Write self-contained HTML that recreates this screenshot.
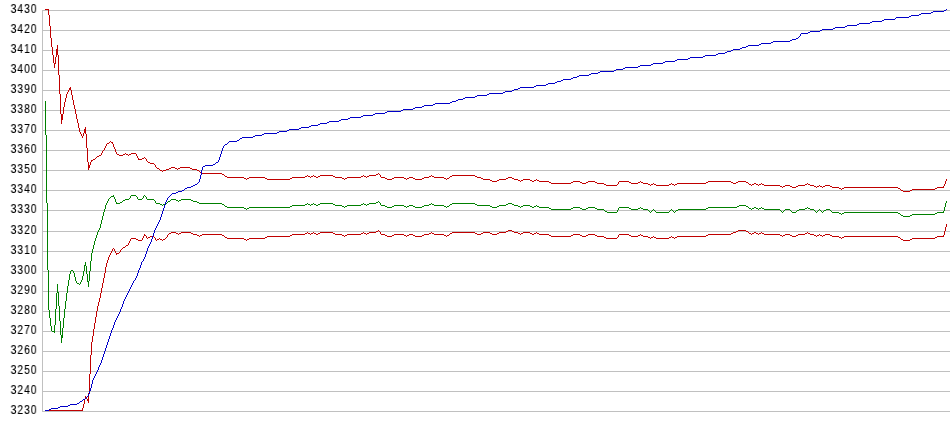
<!DOCTYPE html>
<html><head><meta charset="utf-8"><style>
html,body{margin:0;padding:0;background:#fff;}
body{width:950px;height:435px;position:relative;overflow:hidden;}
.l{position:absolute;right:912.7px;font-family:"Liberation Sans",sans-serif;font-size:12px;line-height:14px;color:#000;text-align:right;will-change:transform;letter-spacing:0.95px;transform:scaleX(0.88);transform-origin:100% 50%;-webkit-text-stroke:0.1px #000;}
svg{position:absolute;left:0;top:0;}
</style></head><body>
<svg width="950" height="435" viewBox="0 0 950 435" shape-rendering="crispEdges">
<path fill="#c0c0c0" d="M42 10h908v1h-908zM42 30h908v1h-908zM42 50h908v1h-908zM42 70h908v1h-908zM42 90h908v1h-908zM42 110h908v1h-908zM42 130h908v1h-908zM42 150h908v1h-908zM42 170h908v1h-908zM42 190h908v1h-908zM42 210h908v1h-908zM42 231h908v1h-908zM42 251h908v1h-908zM42 271h908v1h-908zM42 291h908v1h-908zM42 311h908v1h-908zM42 331h908v1h-908zM42 351h908v1h-908zM42 371h908v1h-908zM42 391h908v1h-908zM42 411h908v1h-908zM42 10h1v402h-1z"/>
<path fill="#c00000" d="M946 224h1v1h-1zM946 225h1v1h-1zM946 226h1v1h-1zM945 227h1v1h-1zM945 228h1v1h-1zM945 229h1v1h-1zM378 230h1v1h-1zM508 230h4v1h-4zM738 230h8v1h-8zM945 230h1v1h-1zM376 231h2v1h-2zM379 231h1v1h-1zM506 231h2v1h-2zM512 231h2v1h-2zM736 231h2v1h-2zM746 231h2v1h-2zM944 231h1v1h-1zM171 232h5v1h-5zM181 232h10v1h-10zM307 232h1v1h-1zM313 232h1v1h-1zM320 232h13v1h-13zM363 232h1v1h-1zM369 232h7v1h-7zM380 232h1v1h-1zM431 232h1v1h-1zM452 232h23v1h-23zM483 232h7v1h-7zM499 232h7v1h-7zM514 232h4v1h-4zM523 232h7v1h-7zM536 232h1v1h-1zM733 232h3v1h-3zM748 232h1v1h-1zM754 232h2v1h-2zM761 232h1v1h-1zM807 232h1v1h-1zM944 232h1v1h-1zM169 233h2v1h-2zM176 233h2v1h-2zM179 233h2v1h-2zM191 233h2v1h-2zM305 233h2v1h-2zM308 233h2v1h-2zM311 233h2v1h-2zM314 233h2v1h-2zM318 233h2v1h-2zM333 233h2v1h-2zM361 233h2v1h-2zM364 233h2v1h-2zM367 233h2v1h-2zM380 233h1v1h-1zM429 233h2v1h-2zM432 233h2v1h-2zM450 233h2v1h-2zM475 233h2v1h-2zM481 233h2v1h-2zM490 233h2v1h-2zM497 233h2v1h-2zM518 233h2v1h-2zM521 233h2v1h-2zM530 233h2v1h-2zM534 233h2v1h-2zM537 233h2v1h-2zM731 233h2v1h-2zM749 233h2v1h-2zM752 233h2v1h-2zM756 233h2v1h-2zM759 233h2v1h-2zM762 233h2v1h-2zM805 233h2v1h-2zM808 233h2v1h-2zM944 233h1v1h-1zM144 234h1v1h-1zM168 234h1v1h-1zM178 234h1v1h-1zM193 234h4v1h-4zM202 234h20v1h-20zM292 234h13v1h-13zM310 234h1v1h-1zM316 234h2v1h-2zM335 234h7v1h-7zM347 234h14v1h-14zM366 234h1v1h-1zM381 234h4v1h-4zM394 234h10v1h-10zM409 234h4v1h-4zM424 234h5v1h-5zM434 234h10v1h-10zM449 234h1v1h-1zM477 234h4v1h-4zM492 234h5v1h-5zM520 234h1v1h-1zM532 234h2v1h-2zM539 234h10v1h-10zM573 234h7v1h-7zM588 234h7v1h-7zM619 234h10v1h-10zM640 234h1v1h-1zM708 234h23v1h-23zM751 234h1v1h-1zM758 234h1v1h-1zM764 234h16v1h-16zM785 234h5v1h-5zM798 234h7v1h-7zM810 234h4v1h-4zM819 234h1v1h-1zM825 234h5v1h-5zM944 234h1v1h-1zM144 235h2v1h-2zM167 235h1v1h-1zM197 235h2v1h-2zM200 235h2v1h-2zM222 235h2v1h-2zM290 235h2v1h-2zM342 235h2v1h-2zM345 235h2v1h-2zM385 235h2v1h-2zM392 235h2v1h-2zM404 235h2v1h-2zM407 235h2v1h-2zM413 235h2v1h-2zM422 235h2v1h-2zM444 235h2v1h-2zM447 235h2v1h-2zM549 235h2v1h-2zM571 235h2v1h-2zM580 235h2v1h-2zM586 235h2v1h-2zM595 235h2v1h-2zM618 235h1v1h-1zM629 235h2v1h-2zM638 235h2v1h-2zM641 235h2v1h-2zM706 235h2v1h-2zM780 235h2v1h-2zM783 235h2v1h-2zM790 235h2v1h-2zM796 235h2v1h-2zM814 235h2v1h-2zM817 235h2v1h-2zM820 235h2v1h-2zM823 235h2v1h-2zM830 235h2v1h-2zM943 235h1v1h-1zM143 236h1v1h-1zM146 236h1v1h-1zM150 236h4v1h-4zM167 236h1v1h-1zM199 236h1v1h-1zM224 236h1v1h-1zM267 236h23v1h-23zM344 236h1v1h-1zM387 236h5v1h-5zM406 236h1v1h-1zM415 236h7v1h-7zM446 236h1v1h-1zM551 236h20v1h-20zM582 236h4v1h-4zM597 236h7v1h-7zM618 236h1v1h-1zM631 236h7v1h-7zM643 236h5v1h-5zM653 236h1v1h-1zM671 236h1v1h-1zM677 236h29v1h-29zM782 236h1v1h-1zM792 236h4v1h-4zM816 236h1v1h-1zM822 236h1v1h-1zM832 236h7v1h-7zM844 236h54v1h-54zM937 236h7v1h-7zM143 237h1v1h-1zM146 237h1v1h-1zM148 237h2v1h-2zM154 237h1v1h-1zM166 237h1v1h-1zM225 237h2v1h-2zM265 237h2v1h-2zM604 237h2v1h-2zM617 237h1v1h-1zM648 237h2v1h-2zM651 237h2v1h-2zM654 237h2v1h-2zM669 237h2v1h-2zM672 237h2v1h-2zM675 237h2v1h-2zM839 237h2v1h-2zM842 237h2v1h-2zM898 237h2v1h-2zM935 237h2v1h-2zM131 238h5v1h-5zM142 238h1v1h-1zM147 238h1v1h-1zM155 238h1v1h-1zM159 238h1v1h-1zM165 238h1v1h-1zM227 238h17v1h-17zM249 238h16v1h-16zM606 238h11v1h-11zM650 238h1v1h-1zM656 238h13v1h-13zM674 238h1v1h-1zM841 238h1v1h-1zM900 238h1v1h-1zM912 238h23v1h-23zM130 239h1v1h-1zM136 239h2v1h-2zM142 239h1v1h-1zM155 239h1v1h-1zM157 239h2v1h-2zM160 239h2v1h-2zM163 239h2v1h-2zM244 239h2v1h-2zM247 239h2v1h-2zM901 239h2v1h-2zM910 239h2v1h-2zM130 240h1v1h-1zM138 240h4v1h-4zM156 240h1v1h-1zM162 240h1v1h-1zM246 240h1v1h-1zM903 240h7v1h-7zM129 241h1v1h-1zM129 242h1v1h-1zM128 243h1v1h-1zM128 244h1v1h-1zM126 245h2v1h-2zM125 246h1v1h-1zM123 247h2v1h-2zM113 248h1v1h-1zM122 248h1v1h-1zM112 249h1v1h-1zM114 249h1v1h-1zM121 249h1v1h-1zM112 250h1v1h-1zM114 250h1v1h-1zM120 250h1v1h-1zM111 251h1v1h-1zM115 251h1v1h-1zM120 251h1v1h-1zM111 252h1v1h-1zM115 252h1v1h-1zM119 252h1v1h-1zM110 253h1v1h-1zM116 253h3v1h-3zM110 254h1v1h-1zM116 254h1v1h-1zM109 255h1v1h-1zM109 256h1v1h-1zM108 257h1v1h-1zM108 258h1v1h-1zM108 259h1v1h-1zM107 260h1v1h-1zM107 261h1v1h-1zM107 262h1v1h-1zM106 263h1v1h-1zM106 264h1v1h-1zM106 265h1v1h-1zM106 266h1v1h-1zM105 267h1v1h-1zM105 268h1v1h-1zM105 269h1v1h-1zM105 270h1v1h-1zM105 271h1v1h-1zM105 272h1v1h-1zM104 273h1v1h-1zM104 274h1v1h-1zM104 275h1v1h-1zM104 276h1v1h-1zM104 277h1v1h-1zM103 278h1v1h-1zM103 279h1v1h-1zM103 280h1v1h-1zM103 281h1v1h-1zM103 282h1v1h-1zM102 283h1v1h-1zM102 284h1v1h-1zM102 285h1v1h-1zM102 286h1v1h-1zM102 287h1v1h-1zM101 288h1v1h-1zM101 289h1v1h-1zM101 290h1v1h-1zM101 291h1v1h-1zM101 292h1v1h-1zM100 293h1v1h-1zM100 294h1v1h-1zM100 295h1v1h-1zM100 296h1v1h-1zM100 297h1v1h-1zM99 298h1v1h-1zM99 299h1v1h-1zM99 300h1v1h-1zM99 301h1v1h-1zM98 302h1v1h-1zM98 303h1v1h-1zM98 304h1v1h-1zM98 305h1v1h-1zM97 306h1v1h-1zM97 307h1v1h-1zM97 308h1v1h-1zM97 309h1v1h-1zM97 310h1v1h-1zM96 311h1v1h-1zM96 312h1v1h-1zM96 313h1v1h-1zM96 314h1v1h-1zM96 315h1v1h-1zM96 316h1v1h-1zM95 317h1v1h-1zM95 318h1v1h-1zM95 319h1v1h-1zM95 320h1v1h-1zM95 321h1v1h-1zM95 322h1v1h-1zM94 323h1v1h-1zM94 324h1v1h-1zM94 325h1v1h-1zM94 326h1v1h-1zM94 327h1v1h-1zM94 328h1v1h-1zM93 329h1v1h-1zM93 330h1v1h-1zM93 331h1v1h-1zM93 332h1v1h-1zM93 333h1v1h-1zM93 334h1v1h-1zM93 335h1v1h-1zM92 336h1v1h-1zM92 337h1v1h-1zM92 338h1v1h-1zM92 339h1v1h-1zM92 340h1v1h-1zM92 341h1v1h-1zM91 342h1v1h-1zM91 343h1v1h-1zM91 344h1v1h-1zM91 345h1v1h-1zM91 346h1v1h-1zM91 347h1v1h-1zM91 348h1v1h-1zM91 349h1v1h-1zM91 350h1v1h-1zM91 351h1v1h-1zM91 352h1v1h-1zM91 353h1v1h-1zM91 354h1v1h-1zM90 355h1v1h-1zM90 356h1v1h-1zM90 357h1v1h-1zM90 358h1v1h-1zM90 359h1v1h-1zM90 360h1v1h-1zM90 361h1v1h-1zM90 362h1v1h-1zM90 363h1v1h-1zM90 364h1v1h-1zM90 365h1v1h-1zM90 366h1v1h-1zM90 367h1v1h-1zM90 368h1v1h-1zM90 369h1v1h-1zM90 370h1v1h-1zM90 371h1v1h-1zM90 372h1v1h-1zM90 373h1v1h-1zM89 374h1v1h-1zM89 375h1v1h-1zM89 376h1v1h-1zM89 377h1v1h-1zM89 378h1v1h-1zM89 379h1v1h-1zM89 380h1v1h-1zM89 381h1v1h-1zM89 382h1v1h-1zM89 383h1v1h-1zM89 384h1v1h-1zM89 385h1v1h-1zM89 386h1v1h-1zM89 387h1v1h-1zM89 388h1v1h-1zM89 389h1v1h-1zM89 390h1v1h-1zM89 391h1v1h-1zM89 392h1v1h-1zM88 393h1v1h-1zM88 394h1v1h-1zM88 395h1v1h-1zM85 396h1v1h-1zM88 396h1v1h-1zM85 397h2v1h-2zM88 397h1v1h-1zM85 398h2v1h-2zM88 398h1v1h-1zM84 399h1v1h-1zM87 399h2v1h-2zM84 400h1v1h-1zM87 400h2v1h-2zM84 401h1v1h-1zM88 401h1v1h-1zM84 402h1v1h-1zM88 402h1v1h-1zM84 403h1v1h-1zM83 404h1v1h-1zM83 405h1v1h-1zM83 406h1v1h-1zM83 407h1v1h-1zM82 408h1v1h-1zM82 409h1v1h-1zM45 410h38v1h-38z"/>
<path fill="#008000" d="M45 101h1v1h-1zM45 102h1v1h-1zM45 103h1v1h-1zM45 104h1v1h-1zM45 105h1v1h-1zM45 106h1v1h-1zM45 107h1v1h-1zM45 108h1v1h-1zM45 109h1v1h-1zM45 110h1v1h-1zM45 111h1v1h-1zM45 112h1v1h-1zM45 113h1v1h-1zM45 114h1v1h-1zM45 115h1v1h-1zM45 116h1v1h-1zM45 117h1v1h-1zM45 118h1v1h-1zM45 119h1v1h-1zM45 120h1v1h-1zM45 121h1v1h-1zM45 122h1v1h-1zM45 123h1v1h-1zM45 124h1v1h-1zM45 125h1v1h-1zM45 126h1v1h-1zM45 127h1v1h-1zM45 128h1v1h-1zM45 129h1v1h-1zM45 130h1v1h-1zM45 131h1v1h-1zM45 132h1v1h-1zM45 133h1v1h-1zM45 134h1v1h-1zM46 135h1v1h-1zM46 136h1v1h-1zM46 137h1v1h-1zM46 138h1v1h-1zM46 139h1v1h-1zM46 140h1v1h-1zM46 141h1v1h-1zM46 142h1v1h-1zM46 143h1v1h-1zM46 144h1v1h-1zM46 145h1v1h-1zM46 146h1v1h-1zM46 147h1v1h-1zM46 148h1v1h-1zM46 149h1v1h-1zM46 150h1v1h-1zM46 151h1v1h-1zM46 152h1v1h-1zM46 153h1v1h-1zM46 154h1v1h-1zM46 155h1v1h-1zM46 156h1v1h-1zM46 157h1v1h-1zM46 158h1v1h-1zM46 159h1v1h-1zM46 160h1v1h-1zM46 161h1v1h-1zM46 162h1v1h-1zM46 163h1v1h-1zM46 164h1v1h-1zM46 165h1v1h-1zM46 166h1v1h-1zM46 167h1v1h-1zM46 168h1v1h-1zM46 169h1v1h-1zM46 170h1v1h-1zM46 171h1v1h-1zM46 172h1v1h-1zM46 173h1v1h-1zM46 174h1v1h-1zM46 175h1v1h-1zM46 176h1v1h-1zM46 177h1v1h-1zM46 178h1v1h-1zM46 179h1v1h-1zM46 180h1v1h-1zM46 181h1v1h-1zM46 182h1v1h-1zM46 183h1v1h-1zM46 184h1v1h-1zM46 185h1v1h-1zM46 186h1v1h-1zM46 187h1v1h-1zM46 188h1v1h-1zM46 189h1v1h-1zM46 190h1v1h-1zM46 191h1v1h-1zM46 192h1v1h-1zM46 193h1v1h-1zM46 194h1v1h-1zM46 195h1v1h-1zM113 195h1v1h-1zM131 195h5v1h-5zM144 195h1v1h-1zM46 196h1v1h-1zM111 196h3v1h-3zM130 196h1v1h-1zM136 196h1v1h-1zM143 196h1v1h-1zM145 196h1v1h-1zM46 197h1v1h-1zM110 197h1v1h-1zM114 197h1v1h-1zM130 197h1v1h-1zM137 197h1v1h-1zM143 197h1v1h-1zM146 197h1v1h-1zM46 198h1v1h-1zM109 198h1v1h-1zM114 198h1v1h-1zM129 198h1v1h-1zM137 198h1v1h-1zM142 198h1v1h-1zM146 198h1v1h-1zM46 199h1v1h-1zM108 199h1v1h-1zM115 199h1v1h-1zM125 199h4v1h-4zM138 199h4v1h-4zM147 199h7v1h-7zM171 199h5v1h-5zM181 199h10v1h-10zM46 200h1v1h-1zM108 200h1v1h-1zM115 200h1v1h-1zM123 200h2v1h-2zM154 200h1v1h-1zM170 200h1v1h-1zM176 200h2v1h-2zM179 200h2v1h-2zM191 200h2v1h-2zM46 201h1v1h-1zM107 201h1v1h-1zM115 201h1v1h-1zM122 201h1v1h-1zM155 201h1v1h-1zM168 201h2v1h-2zM178 201h1v1h-1zM193 201h4v1h-4zM378 201h1v1h-1zM946 201h1v1h-1zM46 202h1v1h-1zM107 202h1v1h-1zM116 202h1v1h-1zM120 202h2v1h-2zM155 202h1v1h-1zM167 202h1v1h-1zM197 202h2v1h-2zM376 202h2v1h-2zM379 202h1v1h-1zM946 202h1v1h-1zM47 203h1v1h-1zM106 203h1v1h-1zM116 203h4v1h-4zM156 203h4v1h-4zM165 203h2v1h-2zM199 203h23v1h-23zM307 203h1v1h-1zM313 203h1v1h-1zM320 203h13v1h-13zM363 203h1v1h-1zM369 203h7v1h-7zM380 203h1v1h-1zM431 203h1v1h-1zM452 203h23v1h-23zM508 203h4v1h-4zM945 203h1v1h-1zM47 204h1v1h-1zM106 204h1v1h-1zM160 204h2v1h-2zM163 204h2v1h-2zM222 204h2v1h-2zM305 204h2v1h-2zM308 204h2v1h-2zM311 204h2v1h-2zM314 204h2v1h-2zM318 204h2v1h-2zM333 204h2v1h-2zM361 204h2v1h-2zM364 204h2v1h-2zM367 204h2v1h-2zM380 204h1v1h-1zM429 204h2v1h-2zM432 204h2v1h-2zM450 204h2v1h-2zM475 204h2v1h-2zM506 204h2v1h-2zM512 204h2v1h-2zM945 204h1v1h-1zM47 205h1v1h-1zM105 205h1v1h-1zM162 205h1v1h-1zM224 205h1v1h-1zM292 205h13v1h-13zM310 205h1v1h-1zM316 205h2v1h-2zM335 205h7v1h-7zM347 205h14v1h-14zM366 205h1v1h-1zM381 205h4v1h-4zM394 205h10v1h-10zM409 205h4v1h-4zM424 205h5v1h-5zM434 205h10v1h-10zM449 205h1v1h-1zM477 205h13v1h-13zM499 205h7v1h-7zM514 205h4v1h-4zM523 205h7v1h-7zM536 205h1v1h-1zM739 205h7v1h-7zM945 205h1v1h-1zM47 206h1v1h-1zM105 206h1v1h-1zM225 206h2v1h-2zM290 206h2v1h-2zM342 206h2v1h-2zM345 206h2v1h-2zM385 206h2v1h-2zM392 206h2v1h-2zM404 206h2v1h-2zM407 206h2v1h-2zM413 206h2v1h-2zM422 206h2v1h-2zM444 206h2v1h-2zM447 206h2v1h-2zM490 206h2v1h-2zM497 206h2v1h-2zM518 206h2v1h-2zM521 206h2v1h-2zM530 206h2v1h-2zM534 206h2v1h-2zM537 206h2v1h-2zM737 206h2v1h-2zM746 206h2v1h-2zM945 206h1v1h-1zM47 207h1v1h-1zM105 207h1v1h-1zM227 207h17v1h-17zM249 207h41v1h-41zM344 207h1v1h-1zM387 207h5v1h-5zM406 207h1v1h-1zM415 207h7v1h-7zM446 207h1v1h-1zM492 207h5v1h-5zM520 207h1v1h-1zM532 207h2v1h-2zM539 207h10v1h-10zM573 207h7v1h-7zM588 207h7v1h-7zM619 207h10v1h-10zM640 207h1v1h-1zM708 207h29v1h-29zM748 207h1v1h-1zM754 207h2v1h-2zM761 207h1v1h-1zM807 207h1v1h-1zM944 207h1v1h-1zM47 208h1v1h-1zM105 208h1v1h-1zM244 208h2v1h-2zM247 208h2v1h-2zM549 208h2v1h-2zM571 208h2v1h-2zM580 208h2v1h-2zM586 208h2v1h-2zM595 208h2v1h-2zM618 208h1v1h-1zM629 208h2v1h-2zM638 208h2v1h-2zM641 208h2v1h-2zM706 208h2v1h-2zM749 208h2v1h-2zM752 208h2v1h-2zM756 208h2v1h-2zM759 208h2v1h-2zM762 208h2v1h-2zM805 208h2v1h-2zM808 208h2v1h-2zM944 208h1v1h-1zM47 209h1v1h-1zM104 209h1v1h-1zM246 209h1v1h-1zM551 209h20v1h-20zM582 209h4v1h-4zM597 209h7v1h-7zM618 209h1v1h-1zM631 209h7v1h-7zM643 209h5v1h-5zM653 209h1v1h-1zM671 209h1v1h-1zM678 209h28v1h-28zM751 209h1v1h-1zM758 209h1v1h-1zM764 209h16v1h-16zM785 209h5v1h-5zM799 209h6v1h-6zM810 209h4v1h-4zM819 209h1v1h-1zM826 209h4v1h-4zM944 209h1v1h-1zM47 210h1v1h-1zM104 210h1v1h-1zM604 210h1v1h-1zM617 210h1v1h-1zM648 210h1v1h-1zM652 210h1v1h-1zM654 210h1v1h-1zM670 210h1v1h-1zM672 210h1v1h-1zM676 210h2v1h-2zM780 210h1v1h-1zM784 210h1v1h-1zM790 210h1v1h-1zM797 210h2v1h-2zM814 210h1v1h-1zM818 210h1v1h-1zM820 210h1v1h-1zM824 210h2v1h-2zM830 210h1v1h-1zM944 210h1v1h-1zM47 211h1v1h-1zM104 211h1v1h-1zM605 211h2v1h-2zM617 211h1v1h-1zM649 211h1v1h-1zM651 211h1v1h-1zM655 211h1v1h-1zM669 211h1v1h-1zM673 211h1v1h-1zM675 211h1v1h-1zM781 211h1v1h-1zM783 211h1v1h-1zM791 211h1v1h-1zM796 211h1v1h-1zM815 211h1v1h-1zM817 211h1v1h-1zM821 211h1v1h-1zM823 211h1v1h-1zM831 211h1v1h-1zM943 211h1v1h-1zM47 212h1v1h-1zM103 212h1v1h-1zM607 212h10v1h-10zM650 212h1v1h-1zM656 212h13v1h-13zM674 212h1v1h-1zM782 212h1v1h-1zM792 212h4v1h-4zM816 212h1v1h-1zM822 212h1v1h-1zM832 212h7v1h-7zM844 212h54v1h-54zM937 212h7v1h-7zM47 213h1v1h-1zM103 213h1v1h-1zM839 213h2v1h-2zM842 213h2v1h-2zM898 213h2v1h-2zM935 213h2v1h-2zM47 214h1v1h-1zM103 214h1v1h-1zM841 214h1v1h-1zM900 214h1v1h-1zM912 214h23v1h-23zM47 215h1v1h-1zM103 215h1v1h-1zM901 215h2v1h-2zM910 215h2v1h-2zM47 216h1v1h-1zM102 216h1v1h-1zM903 216h7v1h-7zM47 217h1v1h-1zM102 217h1v1h-1zM47 218h1v1h-1zM102 218h1v1h-1zM47 219h1v1h-1zM102 219h1v1h-1zM47 220h1v1h-1zM101 220h1v1h-1zM47 221h1v1h-1zM101 221h1v1h-1zM47 222h1v1h-1zM101 222h1v1h-1zM47 223h1v1h-1zM101 223h1v1h-1zM47 224h1v1h-1zM100 224h1v1h-1zM47 225h1v1h-1zM100 225h1v1h-1zM47 226h1v1h-1zM100 226h1v1h-1zM47 227h1v1h-1zM100 227h1v1h-1zM47 228h1v1h-1zM99 228h1v1h-1zM47 229h1v1h-1zM99 229h1v1h-1zM47 230h1v1h-1zM98 230h1v1h-1zM47 231h1v1h-1zM98 231h1v1h-1zM47 232h1v1h-1zM97 232h1v1h-1zM47 233h1v1h-1zM97 233h1v1h-1zM47 234h1v1h-1zM97 234h1v1h-1zM47 235h1v1h-1zM96 235h1v1h-1zM47 236h1v1h-1zM96 236h1v1h-1zM47 237h1v1h-1zM96 237h1v1h-1zM47 238h1v1h-1zM95 238h1v1h-1zM47 239h1v1h-1zM95 239h1v1h-1zM47 240h1v1h-1zM95 240h1v1h-1zM47 241h1v1h-1zM94 241h1v1h-1zM47 242h1v1h-1zM94 242h1v1h-1zM47 243h1v1h-1zM94 243h1v1h-1zM47 244h1v1h-1zM94 244h1v1h-1zM47 245h1v1h-1zM93 245h1v1h-1zM47 246h1v1h-1zM93 246h1v1h-1zM47 247h1v1h-1zM93 247h1v1h-1zM47 248h1v1h-1zM93 248h1v1h-1zM47 249h1v1h-1zM92 249h1v1h-1zM47 250h1v1h-1zM92 250h1v1h-1zM47 251h1v1h-1zM92 251h1v1h-1zM47 252h1v1h-1zM92 252h1v1h-1zM47 253h1v1h-1zM91 253h1v1h-1zM47 254h1v1h-1zM91 254h1v1h-1zM47 255h1v1h-1zM91 255h1v1h-1zM47 256h1v1h-1zM91 256h1v1h-1zM47 257h1v1h-1zM91 257h1v1h-1zM47 258h1v1h-1zM91 258h1v1h-1zM47 259h1v1h-1zM91 259h1v1h-1zM47 260h1v1h-1zM91 260h1v1h-1zM47 261h1v1h-1zM90 261h1v1h-1zM47 262h1v1h-1zM85 262h1v1h-1zM90 262h1v1h-1zM47 263h1v1h-1zM85 263h1v1h-1zM90 263h1v1h-1zM47 264h1v1h-1zM85 264h1v1h-1zM90 264h1v1h-1zM47 265h1v1h-1zM84 265h2v1h-2zM90 265h1v1h-1zM47 266h1v1h-1zM84 266h1v1h-1zM86 266h1v1h-1zM90 266h1v1h-1zM47 267h1v1h-1zM84 267h1v1h-1zM86 267h1v1h-1zM90 267h1v1h-1zM47 268h1v1h-1zM84 268h1v1h-1zM86 268h1v1h-1zM90 268h1v1h-1zM47 269h1v1h-1zM84 269h1v1h-1zM86 269h1v1h-1zM90 269h1v1h-1zM48 270h1v1h-1zM71 270h2v1h-2zM84 270h1v1h-1zM86 270h1v1h-1zM90 270h1v1h-1zM48 271h1v1h-1zM70 271h1v1h-1zM73 271h1v1h-1zM83 271h1v1h-1zM86 271h1v1h-1zM89 271h1v1h-1zM48 272h1v1h-1zM70 272h1v1h-1zM73 272h1v1h-1zM83 272h1v1h-1zM86 272h1v1h-1zM89 272h1v1h-1zM48 273h1v1h-1zM70 273h1v1h-1zM74 273h1v1h-1zM83 273h1v1h-1zM86 273h1v1h-1zM89 273h1v1h-1zM48 274h1v1h-1zM69 274h1v1h-1zM74 274h1v1h-1zM83 274h1v1h-1zM87 274h1v1h-1zM89 274h1v1h-1zM48 275h1v1h-1zM69 275h1v1h-1zM74 275h1v1h-1zM83 275h1v1h-1zM87 275h1v1h-1zM89 275h1v1h-1zM48 276h1v1h-1zM69 276h1v1h-1zM74 276h1v1h-1zM82 276h1v1h-1zM87 276h1v1h-1zM89 276h1v1h-1zM48 277h1v1h-1zM69 277h1v1h-1zM75 277h1v1h-1zM82 277h1v1h-1zM87 277h1v1h-1zM89 277h1v1h-1zM48 278h1v1h-1zM69 278h1v1h-1zM75 278h1v1h-1zM82 278h1v1h-1zM87 278h1v1h-1zM89 278h1v1h-1zM48 279h1v1h-1zM69 279h1v1h-1zM75 279h1v1h-1zM82 279h1v1h-1zM87 279h1v1h-1zM89 279h1v1h-1zM48 280h1v1h-1zM68 280h1v1h-1zM75 280h1v1h-1zM81 280h1v1h-1zM87 280h1v1h-1zM89 280h1v1h-1zM48 281h1v1h-1zM68 281h1v1h-1zM76 281h1v1h-1zM81 281h1v1h-1zM87 281h2v1h-2zM48 282h1v1h-1zM68 282h1v1h-1zM76 282h1v1h-1zM80 282h1v1h-1zM88 282h1v1h-1zM48 283h1v1h-1zM68 283h1v1h-1zM77 283h2v1h-2zM80 283h1v1h-1zM88 283h1v1h-1zM48 284h1v1h-1zM57 284h1v1h-1zM68 284h1v1h-1zM79 284h1v1h-1zM88 284h1v1h-1zM48 285h1v1h-1zM57 285h1v1h-1zM68 285h1v1h-1zM88 285h1v1h-1zM48 286h1v1h-1zM57 286h1v1h-1zM67 286h1v1h-1zM88 286h1v1h-1zM48 287h1v1h-1zM57 287h1v1h-1zM67 287h1v1h-1zM48 288h1v1h-1zM57 288h1v1h-1zM67 288h1v1h-1zM48 289h1v1h-1zM57 289h1v1h-1zM67 289h1v1h-1zM48 290h1v1h-1zM57 290h1v1h-1zM67 290h1v1h-1zM48 291h1v1h-1zM57 291h1v1h-1zM67 291h1v1h-1zM48 292h1v1h-1zM57 292h2v1h-2zM67 292h1v1h-1zM48 293h1v1h-1zM56 293h1v1h-1zM58 293h1v1h-1zM66 293h1v1h-1zM48 294h1v1h-1zM56 294h1v1h-1zM58 294h1v1h-1zM66 294h1v1h-1zM48 295h1v1h-1zM56 295h1v1h-1zM58 295h1v1h-1zM66 295h1v1h-1zM48 296h1v1h-1zM56 296h1v1h-1zM58 296h1v1h-1zM66 296h1v1h-1zM48 297h1v1h-1zM56 297h1v1h-1zM58 297h1v1h-1zM66 297h1v1h-1zM48 298h1v1h-1zM56 298h1v1h-1zM58 298h1v1h-1zM66 298h1v1h-1zM48 299h1v1h-1zM56 299h1v1h-1zM58 299h1v1h-1zM66 299h1v1h-1zM48 300h1v1h-1zM56 300h1v1h-1zM58 300h1v1h-1zM66 300h1v1h-1zM48 301h1v1h-1zM56 301h1v1h-1zM58 301h1v1h-1zM65 301h1v1h-1zM48 302h1v1h-1zM56 302h1v1h-1zM58 302h1v1h-1zM65 302h1v1h-1zM48 303h1v1h-1zM56 303h1v1h-1zM58 303h1v1h-1zM65 303h1v1h-1zM48 304h1v1h-1zM56 304h1v1h-1zM58 304h1v1h-1zM65 304h1v1h-1zM48 305h1v1h-1zM56 305h1v1h-1zM58 305h1v1h-1zM65 305h1v1h-1zM48 306h1v1h-1zM56 306h1v1h-1zM59 306h1v1h-1zM65 306h1v1h-1zM48 307h1v1h-1zM56 307h1v1h-1zM59 307h1v1h-1zM65 307h1v1h-1zM48 308h1v1h-1zM56 308h1v1h-1zM59 308h1v1h-1zM65 308h1v1h-1zM48 309h1v1h-1zM55 309h1v1h-1zM59 309h1v1h-1zM64 309h1v1h-1zM49 310h1v1h-1zM55 310h1v1h-1zM59 310h1v1h-1zM64 310h1v1h-1zM49 311h1v1h-1zM55 311h1v1h-1zM59 311h1v1h-1zM64 311h1v1h-1zM49 312h1v1h-1zM55 312h1v1h-1zM59 312h1v1h-1zM64 312h1v1h-1zM49 313h1v1h-1zM55 313h1v1h-1zM59 313h1v1h-1zM64 313h1v1h-1zM49 314h1v1h-1zM55 314h1v1h-1zM59 314h1v1h-1zM64 314h1v1h-1zM49 315h1v1h-1zM55 315h1v1h-1zM59 315h1v1h-1zM64 315h1v1h-1zM49 316h1v1h-1zM55 316h1v1h-1zM59 316h1v1h-1zM64 316h1v1h-1zM49 317h1v1h-1zM55 317h1v1h-1zM59 317h1v1h-1zM64 317h1v1h-1zM50 318h1v1h-1zM55 318h1v1h-1zM59 318h1v1h-1zM63 318h1v1h-1zM50 319h1v1h-1zM55 319h1v1h-1zM59 319h1v1h-1zM63 319h1v1h-1zM50 320h1v1h-1zM55 320h1v1h-1zM59 320h1v1h-1zM63 320h1v1h-1zM50 321h1v1h-1zM55 321h1v1h-1zM60 321h1v1h-1zM63 321h1v1h-1zM50 322h1v1h-1zM55 322h1v1h-1zM60 322h1v1h-1zM63 322h1v1h-1zM50 323h1v1h-1zM55 323h1v1h-1zM60 323h1v1h-1zM63 323h1v1h-1zM50 324h1v1h-1zM55 324h1v1h-1zM60 324h1v1h-1zM63 324h1v1h-1zM50 325h1v1h-1zM54 325h1v1h-1zM60 325h1v1h-1zM63 325h1v1h-1zM51 326h1v1h-1zM54 326h1v1h-1zM60 326h1v1h-1zM63 326h1v1h-1zM51 327h1v1h-1zM54 327h1v1h-1zM60 327h1v1h-1zM63 327h1v1h-1zM51 328h1v1h-1zM54 328h1v1h-1zM60 328h1v1h-1zM62 328h1v1h-1zM51 329h1v1h-1zM54 329h1v1h-1zM60 329h1v1h-1zM62 329h1v1h-1zM51 330h1v1h-1zM54 330h1v1h-1zM60 330h1v1h-1zM62 330h1v1h-1zM52 331h3v1h-3zM60 331h1v1h-1zM62 331h1v1h-1zM54 332h1v1h-1zM60 332h1v1h-1zM62 332h1v1h-1zM60 333h1v1h-1zM62 333h1v1h-1zM60 334h1v1h-1zM62 334h1v1h-1zM61 335h2v1h-2zM61 336h2v1h-2zM61 337h2v1h-2zM61 338h1v1h-1zM61 339h1v1h-1zM61 340h1v1h-1zM61 341h1v1h-1zM61 342h1v1h-1z"/>
<path fill="#c00000" d="M45 9h4v1h-4zM48 10h1v1h-1zM48 11h1v1h-1zM48 12h1v1h-1zM48 13h1v1h-1zM48 14h1v1h-1zM49 15h1v1h-1zM49 16h1v1h-1zM49 17h1v1h-1zM49 18h1v1h-1zM49 19h1v1h-1zM49 20h1v1h-1zM49 21h1v1h-1zM49 22h1v1h-1zM49 23h1v1h-1zM49 24h1v1h-1zM49 25h1v1h-1zM50 26h1v1h-1zM50 27h1v1h-1zM50 28h1v1h-1zM50 29h1v1h-1zM50 30h1v1h-1zM50 31h1v1h-1zM50 32h1v1h-1zM50 33h1v1h-1zM50 34h1v1h-1zM50 35h1v1h-1zM50 36h1v1h-1zM50 37h1v1h-1zM51 38h1v1h-1zM51 39h1v1h-1zM51 40h1v1h-1zM51 41h1v1h-1zM51 42h1v1h-1zM51 43h1v1h-1zM51 44h1v1h-1zM51 45h1v1h-1zM57 45h1v1h-1zM51 46h1v1h-1zM57 46h1v1h-1zM52 47h1v1h-1zM57 47h1v1h-1zM52 48h1v1h-1zM57 48h1v1h-1zM52 49h1v1h-1zM56 49h2v1h-2zM52 50h1v1h-1zM56 50h2v1h-2zM52 51h1v1h-1zM56 51h2v1h-2zM52 52h1v1h-1zM56 52h2v1h-2zM52 53h1v1h-1zM56 53h2v1h-2zM52 54h1v1h-1zM56 54h2v1h-2zM53 55h1v1h-1zM56 55h1v1h-1zM58 55h1v1h-1zM53 56h1v1h-1zM56 56h1v1h-1zM58 56h1v1h-1zM53 57h1v1h-1zM55 57h1v1h-1zM58 57h1v1h-1zM53 58h1v1h-1zM55 58h1v1h-1zM58 58h1v1h-1zM53 59h1v1h-1zM55 59h1v1h-1zM58 59h1v1h-1zM53 60h1v1h-1zM55 60h1v1h-1zM58 60h1v1h-1zM53 61h1v1h-1zM55 61h1v1h-1zM58 61h1v1h-1zM53 62h1v1h-1zM55 62h1v1h-1zM58 62h1v1h-1zM54 63h2v1h-2zM58 63h1v1h-1zM54 64h1v1h-1zM58 64h1v1h-1zM54 65h1v1h-1zM58 65h1v1h-1zM54 66h1v1h-1zM58 66h1v1h-1zM54 67h1v1h-1zM58 67h1v1h-1zM58 68h1v1h-1zM58 69h1v1h-1zM58 70h1v1h-1zM58 71h1v1h-1zM58 72h1v1h-1zM58 73h1v1h-1zM58 74h1v1h-1zM59 75h1v1h-1zM59 76h1v1h-1zM59 77h1v1h-1zM59 78h1v1h-1zM59 79h1v1h-1zM59 80h1v1h-1zM59 81h1v1h-1zM59 82h1v1h-1zM59 83h1v1h-1zM59 84h1v1h-1zM59 85h1v1h-1zM59 86h1v1h-1zM59 87h1v1h-1zM70 87h1v1h-1zM59 88h1v1h-1zM69 88h2v1h-2zM59 89h1v1h-1zM69 89h2v1h-2zM59 90h1v1h-1zM68 90h1v1h-1zM71 90h1v1h-1zM59 91h1v1h-1zM68 91h1v1h-1zM71 91h1v1h-1zM59 92h1v1h-1zM67 92h1v1h-1zM71 92h1v1h-1zM59 93h1v1h-1zM67 93h1v1h-1zM71 93h1v1h-1zM60 94h1v1h-1zM66 94h1v1h-1zM71 94h1v1h-1zM60 95h1v1h-1zM66 95h1v1h-1zM72 95h1v1h-1zM60 96h1v1h-1zM66 96h1v1h-1zM72 96h1v1h-1zM60 97h1v1h-1zM66 97h1v1h-1zM72 97h1v1h-1zM60 98h1v1h-1zM65 98h1v1h-1zM72 98h1v1h-1zM60 99h1v1h-1zM65 99h1v1h-1zM72 99h1v1h-1zM60 100h1v1h-1zM65 100h1v1h-1zM73 100h1v1h-1zM60 101h1v1h-1zM65 101h1v1h-1zM73 101h1v1h-1zM60 102h1v1h-1zM64 102h1v1h-1zM73 102h1v1h-1zM60 103h1v1h-1zM64 103h1v1h-1zM73 103h1v1h-1zM60 104h1v1h-1zM64 104h1v1h-1zM73 104h1v1h-1zM60 105h1v1h-1zM64 105h1v1h-1zM74 105h1v1h-1zM60 106h1v1h-1zM64 106h1v1h-1zM74 106h1v1h-1zM60 107h1v1h-1zM63 107h1v1h-1zM74 107h1v1h-1zM60 108h1v1h-1zM63 108h1v1h-1zM74 108h1v1h-1zM60 109h1v1h-1zM63 109h1v1h-1zM75 109h1v1h-1zM60 110h1v1h-1zM63 110h1v1h-1zM75 110h1v1h-1zM60 111h1v1h-1zM63 111h1v1h-1zM75 111h1v1h-1zM60 112h1v1h-1zM63 112h1v1h-1zM75 112h1v1h-1zM60 113h1v1h-1zM63 113h1v1h-1zM75 113h1v1h-1zM61 114h2v1h-2zM76 114h1v1h-1zM61 115h2v1h-2zM76 115h1v1h-1zM61 116h2v1h-2zM76 116h1v1h-1zM61 117h2v1h-2zM76 117h1v1h-1zM61 118h2v1h-2zM76 118h1v1h-1zM61 119h2v1h-2zM77 119h1v1h-1zM61 120h1v1h-1zM77 120h1v1h-1zM61 121h1v1h-1zM77 121h1v1h-1zM61 122h1v1h-1zM77 122h1v1h-1zM61 123h1v1h-1zM78 123h1v1h-1zM78 124h1v1h-1zM78 125h1v1h-1zM78 126h1v1h-1zM78 127h1v1h-1zM85 127h1v1h-1zM79 128h1v1h-1zM85 128h1v1h-1zM79 129h1v1h-1zM84 129h2v1h-2zM79 130h1v1h-1zM84 130h2v1h-2zM79 131h1v1h-1zM84 131h2v1h-2zM80 132h1v1h-1zM84 132h2v1h-2zM80 133h1v1h-1zM83 133h1v1h-1zM85 133h1v1h-1zM81 134h1v1h-1zM83 134h1v1h-1zM86 134h1v1h-1zM81 135h1v1h-1zM83 135h1v1h-1zM86 135h1v1h-1zM82 136h1v1h-1zM86 136h1v1h-1zM82 137h1v1h-1zM86 137h1v1h-1zM86 138h1v1h-1zM86 139h1v1h-1zM86 140h1v1h-1zM86 141h1v1h-1zM110 141h1v1h-1zM86 142h1v1h-1zM109 142h1v1h-1zM111 142h2v1h-2zM86 143h1v1h-1zM107 143h2v1h-2zM112 143h1v1h-1zM86 144h1v1h-1zM106 144h1v1h-1zM113 144h1v1h-1zM86 145h1v1h-1zM106 145h1v1h-1zM113 145h1v1h-1zM86 146h1v1h-1zM105 146h1v1h-1zM113 146h1v1h-1zM86 147h1v1h-1zM105 147h1v1h-1zM114 147h1v1h-1zM87 148h1v1h-1zM104 148h1v1h-1zM114 148h1v1h-1zM87 149h1v1h-1zM104 149h1v1h-1zM115 149h1v1h-1zM87 150h1v1h-1zM103 150h1v1h-1zM115 150h1v1h-1zM87 151h1v1h-1zM102 151h1v1h-1zM115 151h1v1h-1zM87 152h1v1h-1zM102 152h1v1h-1zM116 152h1v1h-1zM87 153h1v1h-1zM101 153h1v1h-1zM116 153h1v1h-1zM125 153h1v1h-1zM131 153h5v1h-5zM87 154h1v1h-1zM101 154h1v1h-1zM117 154h2v1h-2zM123 154h2v1h-2zM126 154h2v1h-2zM129 154h2v1h-2zM136 154h1v1h-1zM87 155h1v1h-1zM99 155h2v1h-2zM119 155h4v1h-4zM128 155h1v1h-1zM136 155h1v1h-1zM87 156h1v1h-1zM97 156h2v1h-2zM137 156h1v1h-1zM87 157h1v1h-1zM96 157h1v1h-1zM137 157h1v1h-1zM144 157h1v1h-1zM87 158h1v1h-1zM95 158h1v1h-1zM138 158h1v1h-1zM142 158h2v1h-2zM145 158h1v1h-1zM87 159h1v1h-1zM93 159h2v1h-2zM138 159h4v1h-4zM146 159h1v1h-1zM87 160h1v1h-1zM91 160h2v1h-2zM146 160h1v1h-1zM87 161h1v1h-1zM91 161h1v1h-1zM147 161h1v1h-1zM88 162h1v1h-1zM90 162h1v1h-1zM148 162h2v1h-2zM88 163h1v1h-1zM90 163h1v1h-1zM150 163h4v1h-4zM88 164h1v1h-1zM90 164h1v1h-1zM154 164h1v1h-1zM88 165h2v1h-2zM155 165h1v1h-1zM88 166h2v1h-2zM155 166h1v1h-1zM88 167h2v1h-2zM156 167h1v1h-1zM171 167h4v1h-4zM180 167h10v1h-10zM88 168h1v1h-1zM157 168h2v1h-2zM169 168h2v1h-2zM175 168h2v1h-2zM178 168h2v1h-2zM190 168h2v1h-2zM88 169h1v1h-1zM159 169h1v1h-1zM166 169h3v1h-3zM177 169h1v1h-1zM192 169h5v1h-5zM160 170h2v1h-2zM163 170h3v1h-3zM197 170h2v1h-2zM162 171h1v1h-1zM199 171h1v1h-1zM200 172h1v1h-1zM201 173h21v1h-21zM378 173h1v1h-1zM222 174h2v1h-2zM376 174h2v1h-2zM379 174h1v1h-1zM224 175h1v1h-1zM307 175h1v1h-1zM313 175h1v1h-1zM320 175h13v1h-13zM363 175h1v1h-1zM369 175h7v1h-7zM380 175h1v1h-1zM431 175h1v1h-1zM452 175h23v1h-23zM225 176h2v1h-2zM305 176h2v1h-2zM308 176h2v1h-2zM311 176h2v1h-2zM314 176h2v1h-2zM318 176h2v1h-2zM333 176h2v1h-2zM361 176h2v1h-2zM364 176h2v1h-2zM367 176h2v1h-2zM380 176h1v1h-1zM429 176h2v1h-2zM432 176h2v1h-2zM450 176h2v1h-2zM475 176h2v1h-2zM227 177h17v1h-17zM249 177h16v1h-16zM292 177h13v1h-13zM310 177h1v1h-1zM316 177h2v1h-2zM335 177h7v1h-7zM347 177h14v1h-14zM366 177h1v1h-1zM381 177h4v1h-4zM394 177h10v1h-10zM409 177h4v1h-4zM424 177h5v1h-5zM434 177h10v1h-10zM449 177h1v1h-1zM477 177h4v1h-4zM508 177h4v1h-4zM244 178h2v1h-2zM247 178h2v1h-2zM265 178h2v1h-2zM290 178h2v1h-2zM342 178h2v1h-2zM345 178h2v1h-2zM385 178h2v1h-2zM392 178h2v1h-2zM404 178h2v1h-2zM407 178h2v1h-2zM413 178h2v1h-2zM422 178h2v1h-2zM444 178h2v1h-2zM447 178h2v1h-2zM481 178h2v1h-2zM506 178h2v1h-2zM512 178h2v1h-2zM246 179h1v1h-1zM267 179h23v1h-23zM344 179h1v1h-1zM387 179h5v1h-5zM406 179h1v1h-1zM415 179h7v1h-7zM446 179h1v1h-1zM483 179h7v1h-7zM499 179h7v1h-7zM514 179h4v1h-4zM523 179h7v1h-7zM536 179h1v1h-1zM946 179h1v1h-1zM490 180h2v1h-2zM497 180h2v1h-2zM518 180h2v1h-2zM521 180h2v1h-2zM530 180h2v1h-2zM534 180h2v1h-2zM537 180h2v1h-2zM946 180h1v1h-1zM492 181h5v1h-5zM520 181h1v1h-1zM532 181h2v1h-2zM539 181h10v1h-10zM573 181h7v1h-7zM588 181h7v1h-7zM619 181h10v1h-10zM640 181h1v1h-1zM708 181h23v1h-23zM738 181h8v1h-8zM945 181h1v1h-1zM549 182h2v1h-2zM571 182h2v1h-2zM580 182h2v1h-2zM586 182h2v1h-2zM595 182h2v1h-2zM618 182h1v1h-1zM629 182h2v1h-2zM638 182h2v1h-2zM641 182h2v1h-2zM706 182h2v1h-2zM731 182h2v1h-2zM736 182h2v1h-2zM746 182h2v1h-2zM945 182h1v1h-1zM551 183h20v1h-20zM582 183h4v1h-4zM597 183h7v1h-7zM618 183h1v1h-1zM631 183h7v1h-7zM643 183h5v1h-5zM653 183h1v1h-1zM671 183h1v1h-1zM677 183h29v1h-29zM733 183h3v1h-3zM748 183h1v1h-1zM754 183h2v1h-2zM761 183h1v1h-1zM807 183h1v1h-1zM945 183h1v1h-1zM604 184h2v1h-2zM617 184h1v1h-1zM648 184h2v1h-2zM651 184h2v1h-2zM654 184h2v1h-2zM669 184h2v1h-2zM672 184h2v1h-2zM675 184h2v1h-2zM749 184h2v1h-2zM752 184h2v1h-2zM756 184h2v1h-2zM759 184h2v1h-2zM762 184h2v1h-2zM805 184h2v1h-2zM808 184h2v1h-2zM944 184h1v1h-1zM606 185h11v1h-11zM650 185h1v1h-1zM656 185h13v1h-13zM674 185h1v1h-1zM751 185h1v1h-1zM758 185h1v1h-1zM764 185h16v1h-16zM785 185h5v1h-5zM798 185h7v1h-7zM810 185h4v1h-4zM819 185h1v1h-1zM825 185h5v1h-5zM944 185h1v1h-1zM780 186h2v1h-2zM783 186h2v1h-2zM790 186h2v1h-2zM796 186h2v1h-2zM814 186h2v1h-2zM817 186h2v1h-2zM820 186h2v1h-2zM823 186h2v1h-2zM830 186h2v1h-2zM943 186h1v1h-1zM782 187h1v1h-1zM792 187h4v1h-4zM816 187h1v1h-1zM822 187h1v1h-1zM832 187h7v1h-7zM844 187h54v1h-54zM937 187h7v1h-7zM839 188h2v1h-2zM842 188h2v1h-2zM898 188h2v1h-2zM935 188h2v1h-2zM841 189h1v1h-1zM900 189h1v1h-1zM912 189h23v1h-23zM901 190h2v1h-2zM910 190h2v1h-2zM903 191h7v1h-7z"/>
<path fill="#0000c8" d="M946 9h1v1h-1zM944 10h2v1h-2zM933 11h11v1h-11zM931 12h2v1h-2zM921 13h10v1h-10zM919 14h2v1h-2zM911 15h8v1h-8zM909 16h2v1h-2zM896 17h13v1h-13zM895 18h1v1h-1zM884 19h11v1h-11zM882 20h2v1h-2zM872 21h10v1h-10zM870 22h2v1h-2zM859 23h11v1h-11zM857 24h2v1h-2zM847 25h10v1h-10zM845 26h2v1h-2zM835 27h10v1h-10zM833 28h2v1h-2zM822 29h11v1h-11zM820 30h2v1h-2zM810 31h10v1h-10zM808 32h2v1h-2zM801 33h7v1h-7zM800 34h1v1h-1zM800 35h1v1h-1zM799 36h1v1h-1zM798 37h1v1h-1zM796 38h2v1h-2zM792 39h4v1h-4zM790 40h2v1h-2zM773 41h17v1h-17zM771 42h2v1h-2zM761 43h10v1h-10zM759 44h2v1h-2zM748 45h11v1h-11zM746 46h2v1h-2zM742 47h4v1h-4zM740 48h2v1h-2zM733 49h7v1h-7zM731 50h2v1h-2zM727 51h4v1h-4zM725 52h2v1h-2zM718 53h7v1h-7zM716 54h2v1h-2zM705 55h11v1h-11zM703 56h2v1h-2zM690 57h13v1h-13zM688 58h2v1h-2zM677 59h11v1h-11zM675 60h2v1h-2zM665 61h10v1h-10zM663 62h2v1h-2zM653 63h10v1h-10zM651 64h2v1h-2zM640 65h11v1h-11zM638 66h2v1h-2zM625 67h13v1h-13zM623 68h2v1h-2zM616 69h7v1h-7zM614 70h2v1h-2zM600 71h14v1h-14zM598 72h2v1h-2zM591 73h7v1h-7zM589 74h2v1h-2zM579 75h10v1h-10zM577 76h2v1h-2zM573 77h4v1h-4zM571 78h2v1h-2zM563 79h8v1h-8zM561 80h2v1h-2zM557 81h4v1h-4zM555 82h2v1h-2zM548 83h7v1h-7zM546 84h2v1h-2zM536 85h10v1h-10zM534 86h2v1h-2zM520 87h14v1h-14zM518 88h2v1h-2zM514 89h4v1h-4zM512 90h2v1h-2zM505 91h7v1h-7zM503 92h2v1h-2zM489 93h14v1h-14zM487 94h2v1h-2zM477 95h10v1h-10zM475 96h2v1h-2zM465 97h10v1h-10zM463 98h2v1h-2zM458 99h5v1h-5zM456 100h2v1h-2zM452 101h4v1h-4zM450 102h2v1h-2zM435 103h15v1h-15zM433 104h2v1h-2zM424 105h9v1h-9zM422 106h2v1h-2zM415 107h7v1h-7zM413 108h2v1h-2zM403 109h10v1h-10zM401 110h2v1h-2zM387 111h14v1h-14zM385 112h2v1h-2zM375 113h10v1h-10zM373 114h2v1h-2zM363 115h10v1h-10zM361 116h2v1h-2zM350 117h11v1h-11zM348 118h2v1h-2zM341 119h7v1h-7zM339 120h2v1h-2zM329 121h10v1h-10zM327 122h2v1h-2zM320 123h7v1h-7zM318 124h2v1h-2zM311 125h7v1h-7zM309 126h2v1h-2zM301 127h8v1h-8zM299 128h2v1h-2zM289 129h10v1h-10zM287 130h2v1h-2zM279 131h8v1h-8zM277 132h2v1h-2zM264 133h13v1h-13zM262 134h2v1h-2zM255 135h7v1h-7zM253 136h2v1h-2zM242 137h11v1h-11zM240 138h2v1h-2zM239 139h1v1h-1zM237 140h2v1h-2zM229 141h8v1h-8zM228 142h1v1h-1zM227 143h1v1h-1zM225 144h2v1h-2zM224 145h1v1h-1zM223 146h1v1h-1zM223 147h1v1h-1zM222 148h1v1h-1zM222 149h1v1h-1zM222 150h1v1h-1zM221 151h1v1h-1zM221 152h1v1h-1zM221 153h1v1h-1zM220 154h1v1h-1zM220 155h1v1h-1zM220 156h1v1h-1zM219 157h1v1h-1zM219 158h1v1h-1zM219 159h1v1h-1zM218 160h1v1h-1zM218 161h1v1h-1zM216 162h2v1h-2zM215 163h1v1h-1zM213 164h2v1h-2zM205 165h8v1h-8zM203 166h2v1h-2zM202 167h1v1h-1zM202 168h1v1h-1zM202 169h1v1h-1zM201 170h1v1h-1zM201 171h1v1h-1zM201 172h1v1h-1zM201 173h1v1h-1zM201 174h1v1h-1zM200 175h1v1h-1zM200 176h1v1h-1zM200 177h1v1h-1zM200 178h1v1h-1zM199 179h1v1h-1zM199 180h1v1h-1zM199 181h1v1h-1zM198 182h1v1h-1zM197 183h1v1h-1zM195 184h2v1h-2zM193 185h2v1h-2zM191 186h2v1h-2zM187 187h4v1h-4zM185 188h2v1h-2zM184 189h1v1h-1zM182 190h2v1h-2zM178 191h4v1h-4zM176 192h2v1h-2zM172 193h4v1h-4zM171 194h1v1h-1zM170 195h1v1h-1zM169 196h1v1h-1zM168 197h1v1h-1zM167 198h1v1h-1zM167 199h1v1h-1zM166 200h1v1h-1zM166 201h1v1h-1zM165 202h1v1h-1zM165 203h1v1h-1zM165 204h1v1h-1zM164 205h1v1h-1zM164 206h1v1h-1zM164 207h1v1h-1zM163 208h1v1h-1zM163 209h1v1h-1zM163 210h1v1h-1zM162 211h1v1h-1zM162 212h1v1h-1zM162 213h1v1h-1zM161 214h1v1h-1zM161 215h1v1h-1zM161 216h1v1h-1zM160 217h1v1h-1zM160 218h1v1h-1zM160 219h1v1h-1zM159 220h1v1h-1zM159 221h1v1h-1zM158 222h1v1h-1zM158 223h1v1h-1zM157 224h1v1h-1zM157 225h1v1h-1zM156 226h1v1h-1zM156 227h1v1h-1zM155 228h1v1h-1zM155 229h1v1h-1zM154 230h1v1h-1zM154 231h1v1h-1zM154 232h1v1h-1zM153 233h1v1h-1zM153 234h1v1h-1zM153 235h1v1h-1zM152 236h1v1h-1zM152 237h1v1h-1zM152 238h1v1h-1zM151 239h1v1h-1zM151 240h1v1h-1zM151 241h1v1h-1zM150 242h1v1h-1zM150 243h1v1h-1zM149 244h1v1h-1zM149 245h1v1h-1zM148 246h1v1h-1zM148 247h1v1h-1zM147 248h1v1h-1zM147 249h1v1h-1zM147 250h1v1h-1zM146 251h1v1h-1zM146 252h1v1h-1zM146 253h1v1h-1zM145 254h1v1h-1zM145 255h1v1h-1zM145 256h1v1h-1zM144 257h1v1h-1zM144 258h1v1h-1zM143 259h1v1h-1zM143 260h1v1h-1zM142 261h1v1h-1zM141 262h1v1h-1zM141 263h1v1h-1zM141 264h1v1h-1zM140 265h1v1h-1zM140 266h1v1h-1zM140 267h1v1h-1zM139 268h1v1h-1zM139 269h1v1h-1zM138 270h1v1h-1zM138 271h1v1h-1zM138 272h1v1h-1zM137 273h1v1h-1zM137 274h1v1h-1zM137 275h1v1h-1zM136 276h1v1h-1zM136 277h1v1h-1zM135 278h1v1h-1zM135 279h1v1h-1zM134 280h1v1h-1zM133 281h1v1h-1zM133 282h1v1h-1zM132 283h1v1h-1zM132 284h1v1h-1zM131 285h1v1h-1zM131 286h1v1h-1zM130 287h1v1h-1zM130 288h1v1h-1zM129 289h1v1h-1zM129 290h1v1h-1zM128 291h1v1h-1zM128 292h1v1h-1zM127 293h1v1h-1zM127 294h1v1h-1zM126 295h1v1h-1zM126 296h1v1h-1zM125 297h1v1h-1zM125 298h1v1h-1zM124 299h1v1h-1zM124 300h1v1h-1zM123 301h1v1h-1zM123 302h1v1h-1zM123 303h1v1h-1zM122 304h1v1h-1zM122 305h1v1h-1zM122 306h1v1h-1zM121 307h1v1h-1zM121 308h1v1h-1zM120 309h1v1h-1zM120 310h1v1h-1zM120 311h1v1h-1zM119 312h1v1h-1zM119 313h1v1h-1zM118 314h1v1h-1zM118 315h1v1h-1zM117 316h1v1h-1zM117 317h1v1h-1zM116 318h1v1h-1zM116 319h1v1h-1zM115 320h1v1h-1zM115 321h1v1h-1zM114 322h1v1h-1zM114 323h1v1h-1zM114 324h1v1h-1zM113 325h1v1h-1zM113 326h1v1h-1zM113 327h1v1h-1zM112 328h1v1h-1zM112 329h1v1h-1zM111 330h1v1h-1zM111 331h1v1h-1zM111 332h1v1h-1zM110 333h1v1h-1zM110 334h1v1h-1zM110 335h1v1h-1zM109 336h1v1h-1zM109 337h1v1h-1zM109 338h1v1h-1zM108 339h1v1h-1zM108 340h1v1h-1zM108 341h1v1h-1zM107 342h1v1h-1zM107 343h1v1h-1zM107 344h1v1h-1zM106 345h1v1h-1zM106 346h1v1h-1zM106 347h1v1h-1zM105 348h1v1h-1zM105 349h1v1h-1zM105 350h1v1h-1zM104 351h1v1h-1zM104 352h1v1h-1zM104 353h1v1h-1zM103 354h1v1h-1zM103 355h1v1h-1zM103 356h1v1h-1zM102 357h1v1h-1zM102 358h1v1h-1zM102 359h1v1h-1zM101 360h1v1h-1zM101 361h1v1h-1zM101 362h1v1h-1zM100 363h1v1h-1zM100 364h1v1h-1zM99 365h1v1h-1zM99 366h1v1h-1zM98 367h1v1h-1zM98 368h1v1h-1zM98 369h1v1h-1zM97 370h1v1h-1zM97 371h1v1h-1zM96 372h1v1h-1zM96 373h1v1h-1zM95 374h1v1h-1zM95 375h1v1h-1zM94 376h1v1h-1zM94 377h1v1h-1zM93 378h1v1h-1zM93 379h1v1h-1zM92 380h1v1h-1zM92 381h1v1h-1zM92 382h1v1h-1zM92 383h1v1h-1zM91 384h1v1h-1zM91 385h1v1h-1zM91 386h1v1h-1zM91 387h1v1h-1zM90 388h1v1h-1zM90 389h1v1h-1zM90 390h1v1h-1zM89 391h1v1h-1zM89 392h1v1h-1zM89 393h1v1h-1zM88 394h1v1h-1zM88 395h1v1h-1zM87 396h1v1h-1zM86 397h1v1h-1zM85 398h1v1h-1zM83 399h2v1h-2zM82 400h1v1h-1zM80 401h2v1h-2zM79 402h1v1h-1zM77 403h2v1h-2zM70 404h7v1h-7zM68 405h2v1h-2zM60 406h8v1h-8zM58 407h2v1h-2zM51 408h7v1h-7zM49 409h2v1h-2zM45 410h4v1h-4z"/>
</svg>
<div class="l" style="top:2px">3430</div><div class="l" style="top:22px">3420</div><div class="l" style="top:42px">3410</div><div class="l" style="top:62px">3400</div><div class="l" style="top:82px">3390</div><div class="l" style="top:102px">3380</div><div class="l" style="top:122px">3370</div><div class="l" style="top:142px">3360</div><div class="l" style="top:162px">3350</div><div class="l" style="top:182px">3340</div><div class="l" style="top:202px">3330</div><div class="l" style="top:223px">3320</div><div class="l" style="top:243px">3310</div><div class="l" style="top:263px">3300</div><div class="l" style="top:283px">3290</div><div class="l" style="top:303px">3280</div><div class="l" style="top:323px">3270</div><div class="l" style="top:343px">3260</div><div class="l" style="top:363px">3250</div><div class="l" style="top:383px">3240</div><div class="l" style="top:403px">3230</div>
</body></html>
